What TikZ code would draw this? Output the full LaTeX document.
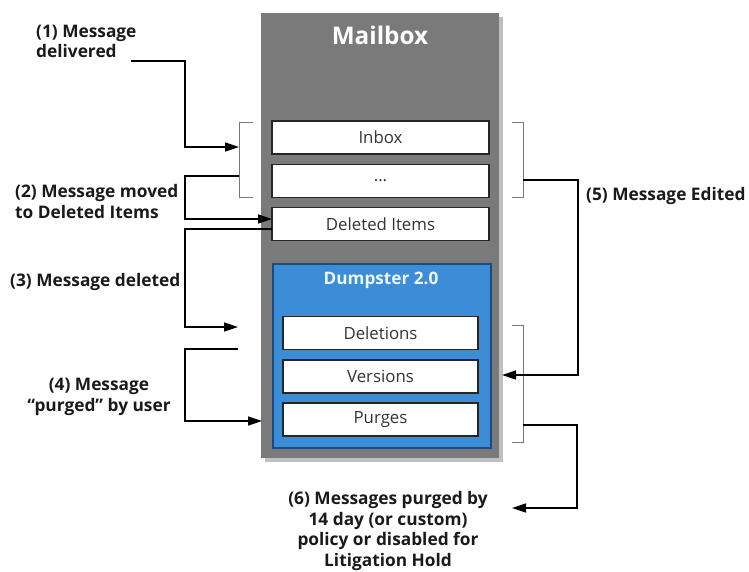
\documentclass[tikz,border=0pt]{standalone}
\usepackage{fontspec}
\setmainfont{Open Sans}
\usetikzlibrary{arrows.meta,shadows}
\definecolor{mailgray}{HTML}{7A7A7A}
\definecolor{dumpblue}{HTML}{3A8DD6}
\definecolor{dumpedge}{HTML}{1B4C80}
\definecolor{boxtext}{HTML}{333333}
\definecolor{labeltext}{HTML}{1A1A1A}
\definecolor{brack}{HTML}{777777}
\begin{document}
\begin{tikzpicture}[x=1pt,y=-1pt,
  folder/.style={draw=black!85, line width=1.3pt, fill=white, minimum width=217pt, minimum height=33pt, inner sep=0pt, font=\fontsize{16.8}{19}\selectfont, text=boxtext, drop shadow={opacity=0.35, shadow xshift=1.5pt, shadow yshift=-1.5pt}},
  dfolder/.style={folder, minimum width=195pt},
  lbl/.style={font=\bfseries\fontsize{17.3}{20.5}\selectfont, text=labeltext, inner sep=0pt},
  bracketline/.style={draw=brack, line width=1pt},
  arr/.style={draw=black, line width=1.6pt, -{Triangle[length=14pt,width=9pt]}},
  conn/.style={draw=black, line width=1.6pt}
]
\useasboundingbox (0,0) rectangle (749,571);
% Mailbox container
\node[fill=mailgray, minimum width=238pt, minimum height=445pt, inner sep=0pt, anchor=north west,
  general shadow={fill=black, opacity=0.25, shadow xshift=4pt, shadow yshift=-4pt}] (mailbox) at (261,13) {};
\node[font=\bfseries\fontsize{24.3}{27}\selectfont, text=white] (mbtitle) at (380,35) {Mailbox};
% Folders
\node[folder] (inbox) at (380.5,137.5) {Inbox};
\node[folder] (dots) at (380.5,181) {...};
\node[folder] (deleted) at (380.5,224) {Deleted Items};
% Dumpster
\node[fill=dumpblue, draw=dumpedge, line width=1.5pt, minimum width=218pt, minimum height=184pt, inner sep=0pt, anchor=north west,
  drop shadow={opacity=0.3, shadow xshift=2pt, shadow yshift=-2pt}] (dumpster) at (272,263) {};
\node[font=\bfseries\fontsize{17.2}{20}\selectfont, text=white!92!dumpblue] (dtitle) at (381,280) {Dumpster 2.0};
\node[dfolder] (deletions) at (380.5,333) {Deletions};
\node[dfolder] (versions) at (380.5,376.5) {Versions};
\node[dfolder] (purges) at (380.5,419.5) {Purges};
% Brackets
\path[bracketline] (253,122) -- (239,122) -- (239,197) -- (253,197);
\path[bracketline] (512,122) -- (523,122) -- (523,197) -- (512,197);
\path[bracketline] (512,325) -- (523,325) -- (523,442) -- (512,442);
% Labels
\node[lbl, align=left, anchor=west] (l1) at (36,41.5) {(1) Message\\delivered};
\node[lbl, align=left, anchor=west] (l2) at (15,201.5) {(2) Message moved\\to Deleted Items};
\node[lbl, anchor=west] (l3) at (10,282) {(3) Message deleted};
\node[lbl, align=center] (l4) at (99,397) {(4) Message\\“purged” by user};
\node[lbl, anchor=west] (l5) at (586,196) {(5) Message Edited};
\node[lbl, align=center] (l6) at (388,531) {(6) Messages purged by\\14 day (or custom)\\policy or disabled for\\Litigation Hold};
% Connector end points
\coordinate (s1) at (131,61);
\coordinate (k1) at (185,147);
\coordinate (e1) at (239,147);
\coordinate (s2) at (239,176);
\coordinate (e2) at (272,219);
\coordinate (s3) at (272,229);
\coordinate (e3) at (238,327);
\coordinate (s4) at (238,349);
\coordinate (e4) at (262,421);
\coordinate (s5) at (523,180);
\coordinate (e5) at (502,375);
\coordinate (s6) at (523,425);
\coordinate (e6) at (512,508);
% Connectors
\draw[arr] (s1) -| (k1) -- (e1);
\draw[arr] (s2) -- (185,176) |- (e2);
\draw[arr] (s3) -- (185,229) |- (e3);
\draw[arr] (s4) -- (185,349) |- (e4);
\draw[arr] (s5) -- (578,180) |- (e5);
\draw[arr] (s6) -- (577,425) |- (e6);
\end{tikzpicture}
\end{document}
